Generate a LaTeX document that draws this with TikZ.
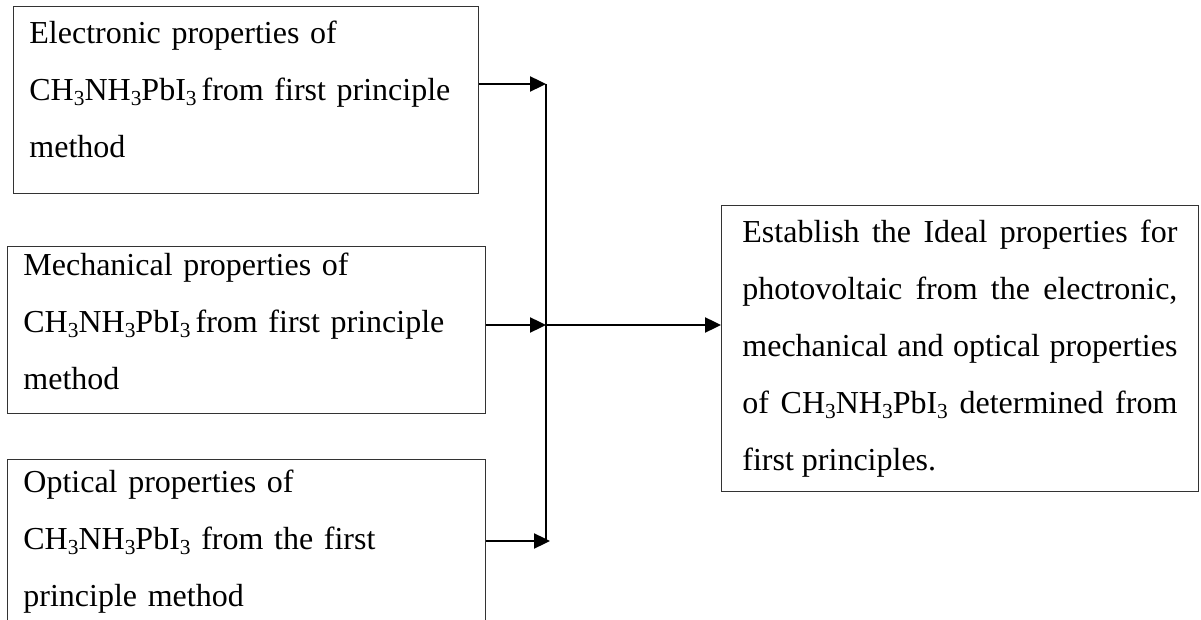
\documentclass[tikz,border=0pt]{standalone}
\usepackage{fontspec}
\setmainfont{Liberation Serif}
\usetikzlibrary{arrows.meta}
\newcommand{\sbs}[1]{\raisebox{-2.4pt}{\fontsize{10.7pt}{10pt}\selectfont #1}}
\newcommand{\mapi}{CH\sbs{3}NH\sbs{3}PbI\sbs{3}}
\begin{document}
\begin{tikzpicture}[x=0.5pt,y=-0.5pt,
  boxshape/.style={draw=black!80, line width=0.6pt, anchor=north west, inner sep=0pt, rectangle},
  boxtext/.style={anchor=base west, inner sep=0pt, font=\fontsize{16pt}{28.5pt}\selectfont},
  conn/.style={line width=1.2pt, -{Triangle[length=8pt,width=7.5pt]}},
  trunk/.style={line width=1.2pt}]
\useasboundingbox (0,0) rectangle (1201,620);
\clip (0,0) rectangle (1201,620);
% boxes
\node[boxshape, minimum width=232.5pt, minimum height=93.5pt] (b1) at (13,6) {};
\node[boxshape, minimum width=239pt, minimum height=83.5pt] (b2) at (7,246) {};
\node[boxshape, minimum width=239pt, minimum height=100pt] (b3) at (7,459) {};
\node[boxshape, minimum width=238.5pt, minimum height=143pt] (rb) at (721,205) {};
% texts
\node[boxtext, text width=225pt, align=left] (t1) at (29,44)
  {Electronic properties of\\ \mapi\hspace{2.5pt}from first principle\\ method};
\node[boxtext, text width=225pt, align=left] (t2) at (23,276)
  {Mechanical properties of\\ \mapi\hspace{2.5pt}from first principle\\ method};
\node[boxtext, text width=225pt, align=left] (t3) at (23,493)
  {Optical properties of\\ \mapi{} from the first\\ principle method};
\node[boxtext, text width=217.5pt, align=justify] (t4) at (742,243)
  {Establish the Ideal properties for\linebreak photovoltaic from the electronic,\linebreak mechanical and optical properties\linebreak of \mapi{} determined from\linebreak first principles.};
% junctions
\coordinate (j1) at (546,84);
\coordinate (j2) at (546,325);
\coordinate (j3) at (546,541);
% connectors
\draw[trunk] (j1) -- (j3);
\draw[conn] (b1.east |- j1) -- (j1);
\draw[conn] (b2.east |- j2) -- (j2);
\draw[conn] (b3.east |- j3) -- ([xshift=2pt]j3);
\draw[conn] (j2) -- (rb.west |- j2);
\end{tikzpicture}
\end{document}
